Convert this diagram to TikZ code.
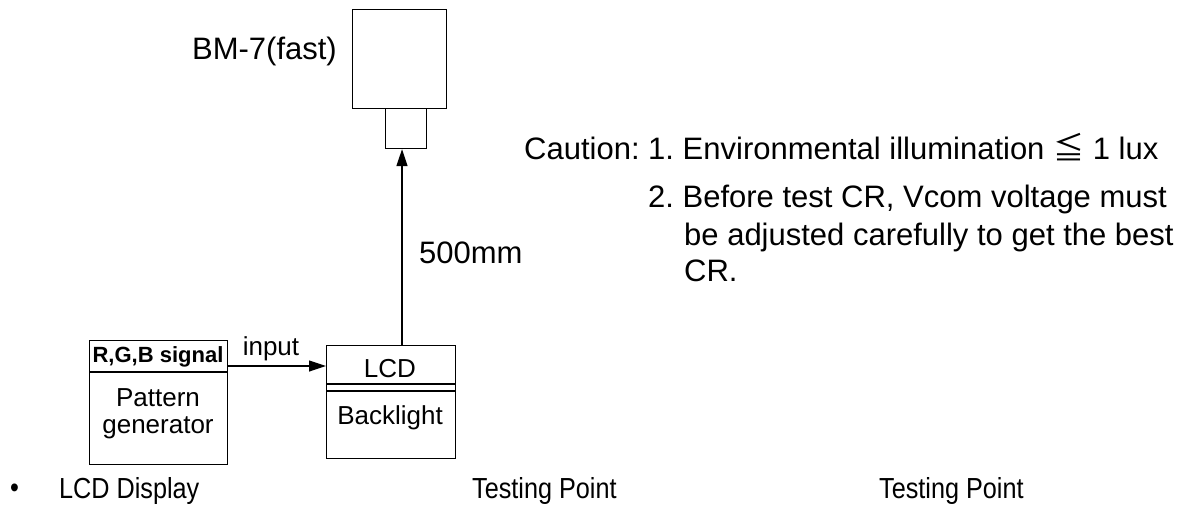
\documentclass[tikz,border=0pt]{standalone}
\usepackage{fontspec}
\setmainfont{Liberation Sans}
\newfontfamily\cjk{Noto Sans CJK SC}
\usetikzlibrary{arrows.meta}
\frenchspacing
\tikzset{
  box/.style={draw, line width=1.2pt, rectangle, inner sep=0pt, anchor=north west},
  txt/.style={inner sep=0pt, font=\frenchspacing\fontsize{31}{34}\selectfont},
  mid/.style={inner sep=0pt, font=\fontsize{26}{30}\selectfont},
  small/.style={inner sep=0pt, font=\fontsize{26}{30}\selectfont},
  bot/.style={inner sep=0pt, font=\fontsize{29}{32}\selectfont, xscale=0.87, anchor=base west},
  conn/.style={line width=1.2pt, -{Triangle[length=17pt,width=11pt]}}
}
\begin{document}
\begin{tikzpicture}[x=1pt,y=-1pt]
\useasboundingbox (0,0) rectangle (1184,513);
% boxes
\node[box, minimum width=94pt, minimum height=99pt] (bm) at (352,9) {};
\node[box, minimum width=41pt, minimum height=40pt] (lens) at (385,108) {};
\node[box, minimum width=138pt, minimum height=124pt] (pg) at (89,340) {};
\node[box, minimum width=129pt, minimum height=113pt] (lcd) at (326,345) {};
% dividers
\coordinate (pgdiv) at (0,372);
\coordinate (lcddivA) at (0,384);
\coordinate (lcddivB) at (0,391);
\draw[line width=1.2pt] (pg.west |- pgdiv) -- (pg.east |- pgdiv);
\draw[line width=1.2pt] (lcd.west |- lcddivA) -- (lcd.east |- lcddivA);
\draw[line width=1.2pt] (lcd.west |- lcddivB) -- (lcd.east |- lcddivB);
% labels in boxes
\node[inner sep=0pt, font=\bfseries\fontsize{22}{26}\selectfont] (rgb) at (158,357) {R,G,B signal};
\node[mid] (pat) at (158,398) {Pattern};
\node[mid] (gen) at (158,428) {generator};
\node[mid] (lcdt) at (390,369) {LCD};
\node[mid] (bl) at (390,418) {Backlight};
% connectors
\coordinate (inY) at (0,366);
\draw[conn] (pg.east |- inY) -- (lcd.west |- inY);
\node[small] (inp) at (271,349) {input};
\coordinate (vx) at (402,0);
\draw[conn] (lcd.north -| vx) -- (lens.south -| vx);
% texts
\node[txt, anchor=base east] (bmt) at (337,60) {BM-7(fast)};
\node[txt, anchor=base west] (mm) at (419,264) {500mm};
\node[txt, anchor=base west] (c1) at (524,160) {Caution: 1. Environmental illumination {\cjk ≦} 1 lux};
\node[txt, anchor=base west] (c2) at (648,208) {2. Before test CR, Vcom voltage must};
\node[txt, anchor=base west] (c3) at (684,246) {be adjusted carefully to get the best};
\node[txt, anchor=base west] (c4) at (684,282) {CR.};
% bottom line
\node[bot] (bul) at (10,497) {•};
\node[bot] (lcdd) at (59,498) {LCD Display};
\node[bot] (tp1) at (472,498) {Testing Point};
\node[bot] (tp2) at (879,498) {Testing Point};
\end{tikzpicture}
\end{document}
